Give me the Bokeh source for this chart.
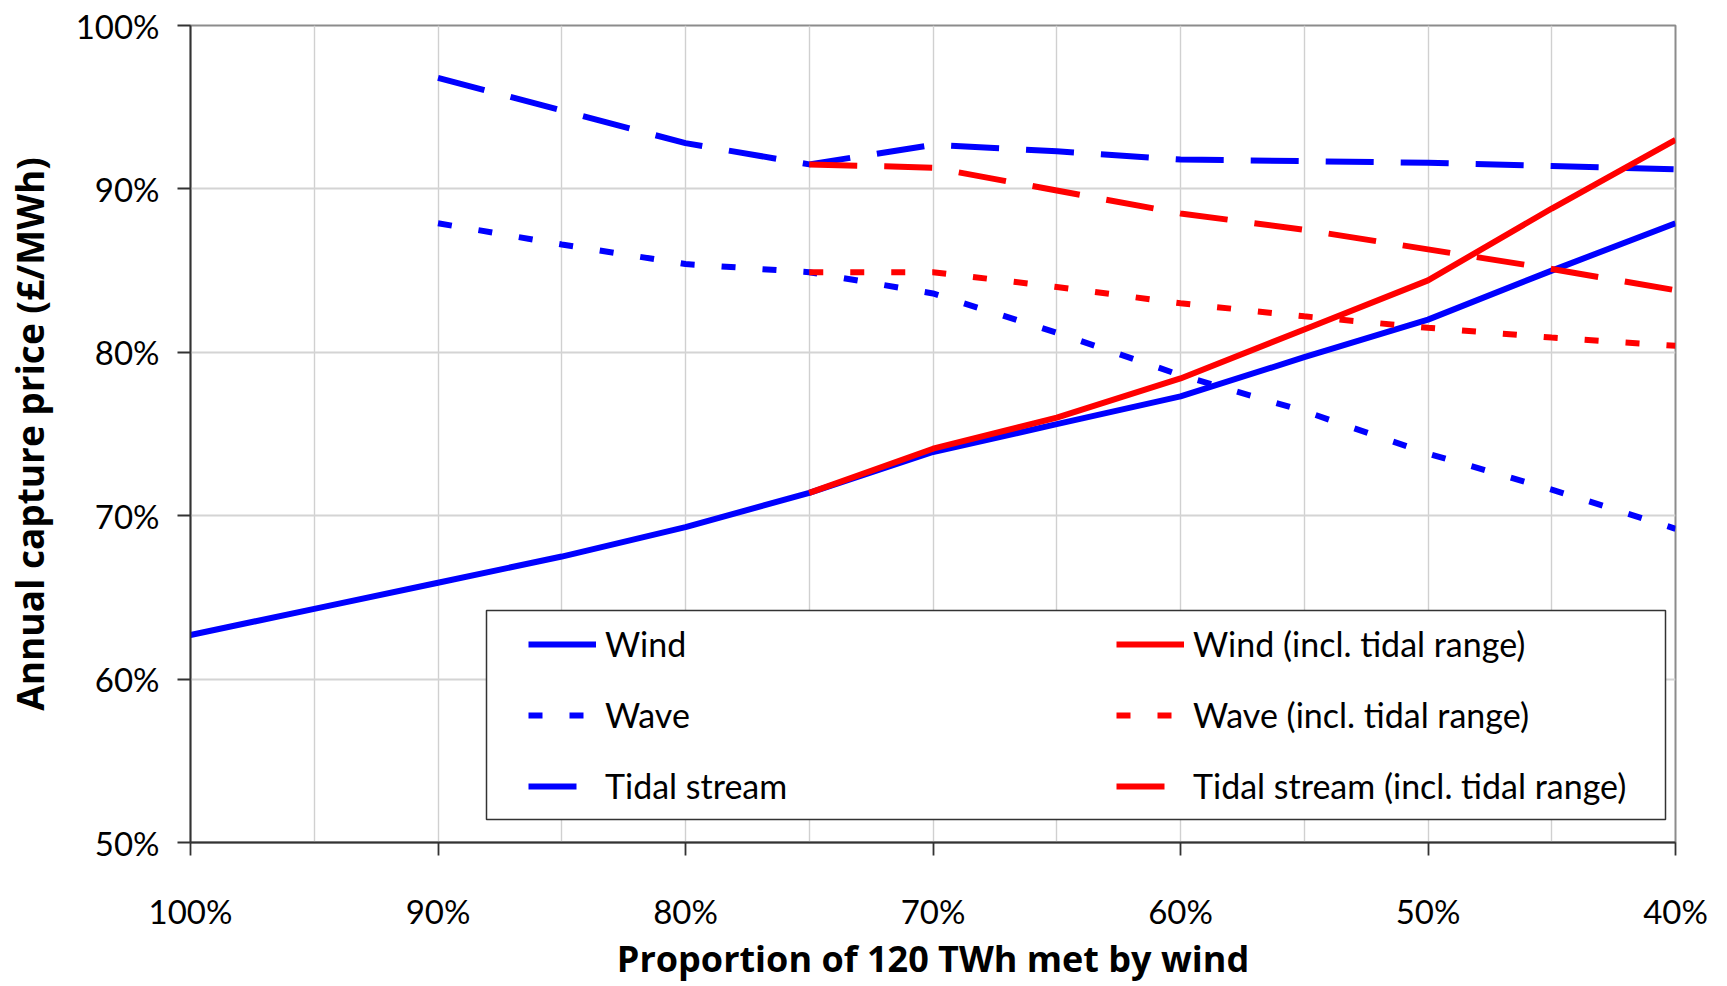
from bokeh.plotting import figure
from bokeh.models import (Range1d, FixedTicker, PrintfTickFormatter, Legend,
                          LegendItem, BoxAnnotation)
from bokeh.embed import file_html
from bokeh.resources import INLINE

# ---- data (percent of 120 TWh met by wind -> annual capture price, %) ----
x_wind = [100, 95, 90, 85, 80, 75, 70, 65, 60, 55, 50, 45, 40]
wind = [62.7, 64.3, 65.9, 67.5, 69.3, 71.4, 73.9, 75.6, 77.3, 79.7, 82.0, 85.0, 87.9]

x_wave = [90, 85, 80, 75, 70, 65, 60, 55, 50, 45, 40]
wave = [87.9, 86.6, 85.4, 84.9, 83.6, 81.2, 78.6, 76.4, 73.8, 71.6, 69.2]

x_tidal = [90, 85, 80, 75, 70, 65, 60, 55, 50, 45, 40]
tidal = [96.8, 94.8, 92.8, 91.5, 92.7, 92.3, 91.8, 91.7, 91.6, 91.4, 91.2]

x_incl = [75, 70, 65, 60, 55, 50, 45, 40]
wind_incl = [71.4, 74.1, 76.0, 78.4, 81.4, 84.4, 88.8, 93.0]
wave_incl = [84.9, 84.9, 84.0, 83.0, 82.2, 81.5, 80.9, 80.4]
tidal_incl = [91.5, 91.3, 89.9, 88.5, 87.5, 86.3, 85.1, 83.8]

x_ticks = [100, 90, 80, 70, 60, 50, 40]
x_minor = [95, 85, 75, 65, 55, 45]
y_ticks = [50, 60, 70, 80, 90, 100]

FONT = "Lato"
TITLE_FONT = "Open Sans"
BLUE = "#0000FF"
RED = "#FF0000"
LW = 6
DASH_LONG = "48 27"
DASH_DOT = "14 27"

p = figure(frame_width=1485, frame_height=817,
           min_border_left=190, min_border_right=52,
           min_border_top=25, min_border_bottom=144,
           x_range=Range1d(100, 40), y_range=Range1d(50, 100),
           output_backend="svg", toolbar_location=None,
           background_fill_color="white", border_fill_color="white")

p.outline_line_color = "#8c8c8c"
p.outline_line_width = 2

# axes
p.xaxis.ticker = FixedTicker(ticks=x_ticks, minor_ticks=x_minor)
p.yaxis.ticker = FixedTicker(ticks=y_ticks)
p.xaxis.formatter = PrintfTickFormatter(format="%d%%")
p.yaxis.formatter = PrintfTickFormatter(format="%d%%")
for ax in (p.xaxis, p.yaxis):
    ax.axis_line_color = "#333333"
    ax.axis_line_width = 1.8
    ax.major_tick_line_color = "#333333"
    ax.major_tick_line_width = 1.8
    ax.major_tick_out = 13
    ax.major_tick_in = 0
    ax.minor_tick_out = 0
    ax.minor_tick_in = 0
    ax.major_label_text_font = FONT
    ax.major_label_text_font_size = "33px"
    ax.major_label_text_color = "black"
    ax.axis_label_text_font = TITLE_FONT
    ax.axis_label_text_font_style = "bold"
    ax.axis_label_text_color = "black"

p.xaxis.axis_label_text_font_size = "36px"
p.yaxis.axis_label_text_font_size = "37px"

p.xaxis.axis_label = "Proportion of 120 TWh met by wind"
p.yaxis.axis_label = "Annual capture price (£/MWh)"
p.xaxis.major_label_standoff = 35
p.xaxis.axis_label_standoff = 0
p.yaxis.major_label_standoff = 18
p.yaxis.axis_label_standoff = 18

# grid
p.xgrid.grid_line_color = "#d0d0d0"
p.xgrid.grid_line_width = 1.4
p.xgrid.minor_grid_line_color = "#d0d0d0"
p.xgrid.minor_grid_line_width = 1.4
p.ygrid.grid_line_color = "#d4d4d4"
p.ygrid.grid_line_width = 1.8

# series
r_wind = p.line(x_wind, wind, line_color=BLUE, line_width=LW)
r_wave = p.line(x_wave, wave, line_color=BLUE, line_width=LW, line_dash=DASH_DOT)
r_tidal = p.line(x_tidal, tidal, line_color=BLUE, line_width=LW, line_dash=DASH_LONG)
r_wind_i = p.line(x_incl, wind_incl, line_color=RED, line_width=LW)
r_wave_i = p.line(x_incl, wave_incl, line_color=RED, line_width=LW, line_dash=DASH_DOT)
r_tidal_i = p.line(x_incl, tidal_incl, line_color=RED, line_width=LW, line_dash=DASH_LONG)

# legend frame
box = BoxAnnotation(left=296, right=1475, bottom=23, top=232,
                    left_units="screen", right_units="screen",
                    top_units="screen", bottom_units="screen",
                    fill_color="white", fill_alpha=1.0,
                    line_color="#333333", line_width=1.5, line_alpha=1.0)
p.add_layout(box)


def make_legend(items, loc):
    lg = Legend(items=items, location=loc, orientation="vertical",
                glyph_width=68, glyph_height=20, label_height=40,
                spacing=30, padding=0, margin=0, label_standoff=9,
                label_text_font=FONT, label_text_font_size="34px",
                label_text_color="black",
                border_line_color=None, background_fill_alpha=0.0)
    return lg


leg1 = make_legend([LegendItem(label="Wind", renderers=[r_wind]),
                    LegendItem(label="Wave", renderers=[r_wave]),
                    LegendItem(label="Tidal stream", renderers=[r_tidal])],
                   (338, 36))
leg2 = make_legend([LegendItem(label="Wind (incl. tidal range)", renderers=[r_wind_i]),
                    LegendItem(label="Wave (incl. tidal range)", renderers=[r_wave_i]),
                    LegendItem(label="Tidal stream (incl. tidal range)", renderers=[r_tidal_i])],
                   (926, 36))
p.add_layout(leg1)
p.add_layout(leg2)

open("out.html", "w").write(file_html(p, INLINE))
